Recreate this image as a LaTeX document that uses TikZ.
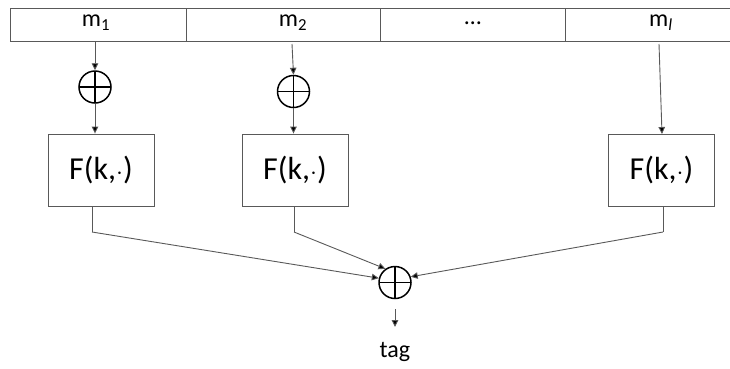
\documentclass[tikz,border=0pt]{standalone}
\usepackage{fontspec}
\setmainfont{Carlito}
\usetikzlibrary{arrows.meta}
\begin{document}
\begin{tikzpicture}[x=1pt,y=-1pt,
  ln/.style={draw=black!65,line width=0.9pt},
  arr/.style={ln,-{Triangle[length=7pt,width=6.5pt,fill=black]}},
  fbox/.style={draw=black!65,line width=0.9pt,minimum width=106pt,minimum height=72pt,inner sep=0pt,font=\fontsize{32}{34}\selectfont},
  xo/.style={circle,draw=black,line width=1.5pt,minimum size=32pt,inner sep=0pt,
    path picture={\draw[black,line width=1.8pt] (path picture bounding box.north) -- (path picture bounding box.south) (path picture bounding box.west) -- (path picture bounding box.east);}},
  cell/.style={draw=black!65,line width=0.9pt,minimum height=33pt,inner sep=0pt},
  lbl/.style={font=\fontsize{24}{26}\selectfont,inner sep=0pt},
  mlbl/.style={font=\fontsize{24}{26}\selectfont,inner sep=0pt}]
\useasboundingbox (0,0) rectangle (730,368);
% top bar
\node[cell,minimum width=176pt] (c1) at (98,24.5) {};
\node[cell,minimum width=194pt] (c2) at (283,24.5) {};
\node[cell,minimum width=185pt] (c3) at (472.5,24.5) {};
\node[cell,minimum width=170pt] (c4) at (650,24.5) {};
\node[mlbl] (m1) at (96,23) {m\textsubscript{1}};
\node[mlbl] (m2) at (293,23) {m\textsubscript{2}};
\node[mlbl] (md) at (473,23) {…};
\node[mlbl] (ml) at (661,23) {m\textsubscript{\itshape l}};
\coordinate (t1) at (95,41);
\coordinate (t2) at (292,44);
\coordinate (t3) at (659,44);
% xors
\node[xo] (x1) at (95,87) {};
\node[xo] (x2) at (293.5,91.5) {};
% F boxes
\node[fbox] (f1) at (101,170) {F(k,$\cdot$)};
\node[fbox] (f2) at (295,170) {F(k,$\cdot$)};
\node[fbox] (f3) at (661.5,170) {F(k,$\cdot$)};
% connectors top
\draw[arr] (t1) -- (x1.north);
\draw[arr] (x1.south) -- (x1.south |- f1.north);
\draw[arr] (t2) -- (x2.north);
\draw[arr] (x2.south) -- (x2.south |- f2.north);
\draw[arr] (t3) -- (662,134);
% bottom xor
\node[xo] (xb) at (395,282.5) {};
\coordinate (b1) at (92,232);
\coordinate (b2) at (294,232);
\coordinate (b3) at (663,232);
\draw[ln] (92,206) -- (b1);
\draw[ln] (294,206) -- (b2);
\draw[ln] (663,206) -- (b3);
\draw[arr] (b1) -- (xb.165);
\draw[arr] (b2) -- (xb.125);
\draw[arr] (b3) -- (xb.20);
\coordinate (d1) at (395,309);
\coordinate (d2) at (395,327);
\draw[arr] (d1) -- (d2);
\node[lbl] (tag) at (395,352) {tag};
\end{tikzpicture}
\end{document}
